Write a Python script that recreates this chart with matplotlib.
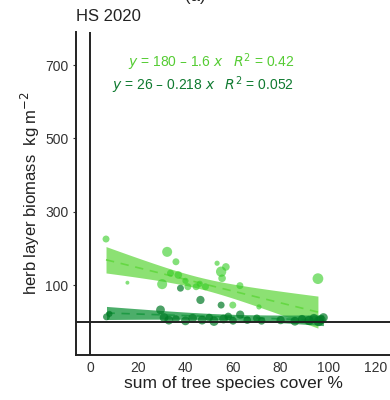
import numpy as np
import matplotlib.pyplot as plt

plt.rcParams['font.family'] = ['Liberation Sans', 'DejaVu Sans']

# herb layer biomass vs. summed tree cover, HS 2020
light_x = [6.6, 15.6, 32.3, 36, 30.2, 33.7, 37, 41, 44.5, 48.4, 53.3, 55, 55.4,
           57, 62.9, 59.9, 70.9, 95.7, 40, 46]
light_y = [226, 107, 191, 164, 103, 133, 128, 96, 96, 96, 160, 137, 119,
           150, 99, 46, 41, 118, 112, 104]
light_s = [25, 8, 52, 25, 52, 25, 30, 25, 25, 25, 14, 55, 30,
           30, 25, 25, 14, 60, 20, 20]

dark_x = [6.8, 8, 29.5, 31, 33, 36, 37.9, 40, 43, 46.3, 47, 50, 52, 55, 56, 58,
          60, 63, 66, 70, 72, 80, 86, 89, 92, 94, 96, 97, 98]
dark_y = [14, 22, 33, 12, 5, 8, 92, 3, 10, 60, 5, 12, 2, 46, 8, 15,
          3, 20, 5, 10, 3, 5, 2, 8, 4, 10, 2, 6, 12]
dark_s = [25, 20, 40, 40, 40, 30, 25, 40, 40, 35, 40, 30, 45, 25, 40, 30,
          30, 35, 30, 30, 30, 35, 40, 35, 45, 40, 50, 45, 40]

# fitted models as reported
light_fit = (180, -1.6)
dark_fit = (26, -0.218)

light_col = '#33cc22'
dark_col = '#007a25'


def band(ax, xs, ys, fit, col, alpha, k):
    xs = np.asarray(xs, float)
    ys = np.asarray(ys, float)
    a, b = fit
    n = len(xs)
    resid = ys - (a + b * xs)
    s = np.sqrt(np.sum(resid ** 2) / (n - 2))
    xx = np.linspace(xs.min(), xs.max(), 100)
    se = s * np.sqrt(1 / n + (xx - xs.mean()) ** 2 / np.sum((xs - xs.mean()) ** 2))
    yy = a + b * xx
    ax.fill_between(xx, yy - k * se, yy + k * se, color=col, alpha=alpha, lw=0, zorder=2)
    ax.plot(xx, yy, ls=(0, (5, 4)), color=col, lw=1.2, zorder=3)


fig = plt.figure(figsize=(3.9, 4), dpi=100)
ax = fig.add_axes([0.195, 0.1125, 0.805, 0.8075])

band(ax, light_x, light_y, light_fit, '#66d844', 0.75, 1.6)
band(ax, dark_x, dark_y, dark_fit, '#1f9a45', 0.8, 2.2)

ax.scatter(light_x, light_y, s=light_s, color=light_col, alpha=0.6, lw=0, zorder=4)
ax.scatter(dark_x, dark_y, s=dark_s, color=dark_col, alpha=0.7, lw=0, zorder=5)

ax.axvline(0, color='#222222', lw=1.4, zorder=1)
ax.axhline(0, color='#222222', lw=1.4, zorder=6)

ax.set_xlim(-6, 126)
ax.set_ylim(-90, 790)
ax.set_xticks([0, 20, 40, 60, 80, 100, 120])
ax.set_yticks([100, 300, 500, 700])
ax.tick_params(labelsize=10, colors='#333333', length=2, width=0.8)
ax.tick_params(axis='x', length=0, pad=4)

for side in ['top', 'right']:
    ax.spines[side].set_visible(False)
for side in ['left', 'bottom']:
    ax.spines[side].set_linewidth(1.4)
    ax.spines[side].set_color('#222222')

ax.set_xlabel('sum of tree species cover %', fontsize=12.5, color='#222222', labelpad=1)
ax.set_ylabel('herb layer biomass  kg m$^{-2}$', fontsize=12, color='#222222', labelpad=2)

ax.text(0.0, 1.025, 'HS 2020', transform=ax.transAxes, fontsize=12, color='#222222',
        ha='left', va='bottom')
fig.text(0.5, 1.008, '(a)', fontsize=12, color='#222222', ha='center', va='center')

ax.text(0.695, 0.907, r'$y$ = 180 – 1.6 $x$   $R^2$ = 0.42', transform=ax.transAxes,
        fontsize=10, color='#55cc33', ha='right', va='center')
ax.text(0.695, 0.835, r'$y$ = 26 – 0.218 $x$   $R^2$ = 0.052', transform=ax.transAxes,
        fontsize=10, color='#0f7a30', ha='right', va='center')

fig.savefig('out.png', dpi=100)
